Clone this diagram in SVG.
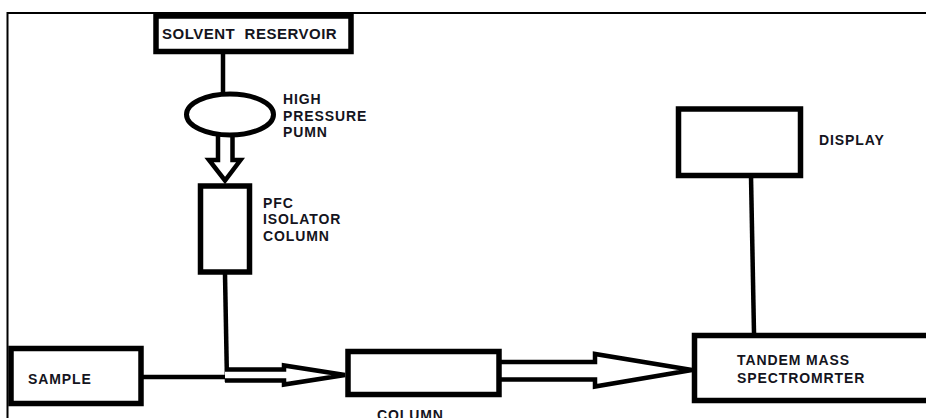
<svg xmlns="http://www.w3.org/2000/svg" width="926" height="418" viewBox="0 0 926 418">
<style>
.box{fill:#fff;stroke:#000;stroke-width:5.5}
.ln{fill:none;stroke:#000;stroke-width:4.5}
.arr{fill:#fff;stroke:#000;stroke-width:4.5;stroke-linejoin:miter}
.t{font-family:"Liberation Sans",Arial,sans-serif;font-weight:bold;font-size:14px;fill:#141420;letter-spacing:0.9px}
</style>
<rect x="0" y="0" width="926" height="418" fill="#fff"/>
<g id="frame">
<path d="M7.5,418 V13 H926" fill="none" stroke="#000" stroke-width="2"/>
</g>
<g id="connectors">
<path class="ln" d="M223,52 V94" stroke-width="4"/>
<path class="arr" d="M218,134 V160 H209 L225,180.5 L240.5,160 H232.5 V134"/>
<path class="ln" d="M225,274 L227,382"/>
<path class="ln" d="M143,377 H228" stroke-width="5"/>
<path class="arr" d="M225,369.5 H284 V365.5 L345,375 L284,384.5 V380.5 H225"/>
<path class="arr" d="M500,362 H595 V354 L692,370 L595,386.5 V379.5 H500" stroke-width="5"/>
<path class="ln" d="M751,176 L754,333" stroke-width="5"/>
</g>
<g id="solvent-reservoir">
<rect class="box" x="156" y="16" width="195" height="35.5"/>
<text class="t" x="162" y="39" style="font-size:15px;letter-spacing:0.5px;white-space:pre" xml:space="preserve">SOLVENT  RESERVOIR</text>
</g>
<g id="high-pressure-pump">
<ellipse cx="230" cy="114.5" rx="43.5" ry="20.5" fill="#fff" stroke="#000" stroke-width="5"/>
<text class="t" x="283" y="104">HIGH</text>
<text class="t" x="283" y="120.5">PRESSURE</text>
<text class="t" x="283" y="136.5">PUMN</text>
</g>
<g id="pfc-isolator-column">
<rect class="box" x="200.5" y="186" width="49" height="86"/>
<text class="t" x="263" y="207.5">PFC</text>
<text class="t" x="263" y="224">ISOLATOR</text>
<text class="t" x="263" y="240.5">COLUMN</text>
</g>
<g id="sample">
<rect class="box" x="11" y="348.5" width="130" height="55" stroke-width="5"/>
<text class="t" x="28" y="383.5">SAMPLE</text>
</g>
<g id="column">
<rect class="box" x="348" y="351.5" width="151" height="43"/>
<text class="t" x="377" y="420">COLUMN</text>
</g>
<g id="tandem-mass-spectrometer">
<rect class="box" x="694.5" y="335.5" width="250" height="65" stroke-width="6"/>
<text class="t" x="737" y="365">TANDEM MASS</text>
<text class="t" x="737" y="382.5">SPECTROMRTER</text>
</g>
<g id="display">
<rect class="box" x="678.5" y="109" width="122" height="66.5" stroke-width="6"/>
<text class="t" x="819" y="144.5">DISPLAY</text>
</g>
</svg>
